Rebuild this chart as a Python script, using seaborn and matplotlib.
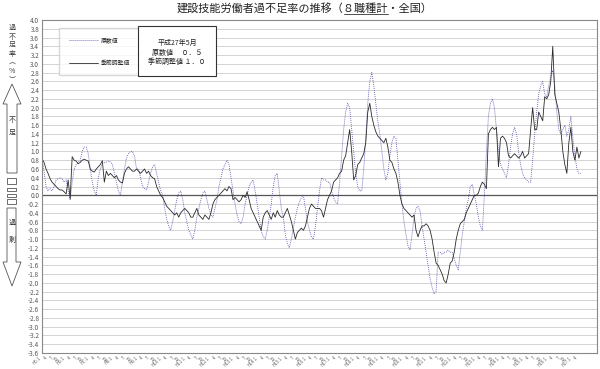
import matplotlib
matplotlib.use("Agg")
import matplotlib.pyplot as plt
import matplotlib.patches as mpatches
from matplotlib.lines import Line2D
import numpy as np
import pandas as pd
import seaborn as sns

# 過不足率 (%) monthly, 1993/1 - 2015/5
seasonal = [
    0.84, 0.75, 0.6, 0.5, 0.38, 0.3, 0.25, 0.2, 0.15, 0.12, 0.12, 0.08,          # 1993
    0.03, 0.35, -0.08, 0.88, 0.8, 0.78, 0.72, 0.75, 0.8, 0.82, 0.8, 0.78,        # 1994
    0.6, 0.55, 0.53, 0.6, 0.65, 0.7, 0.79, 0.3, 0.55, 0.45, 0.5, 0.45,           # 1995
    0.4, 0.45, 0.35, 0.3, 0.28, 0.5, 0.6, 0.65, 0.6, 0.55, 0.55, 0.6,            # 1996
    0.55, 0.5, 0.55, 0.6, 0.5, 0.55, 0.45, 0.4, 0.38, 0.2, 0.1, 0.0,             # 1997
    -0.05, -0.15, -0.25, -0.3, -0.35, -0.4, -0.45, -0.4, -0.5, -0.4, -0.35, -0.3,  # 1998
    -0.35, -0.4, -0.5, -0.5, -0.4, -0.3, -0.45, -0.5, -0.55, -0.45, -0.5, -0.55,   # 1999
    -0.4, -0.2, -0.1, -0.05, 0.0, 0.05, 0.1, 0.15, 0.1, 0.2, 0.15, -0.1,          # 2000
    -0.05, -0.1, -0.15, -0.1, 0.0, -0.05, 0.08, -0.1, -0.3, -0.4, -0.5, -0.6,     # 2001
    -0.7, -0.8, -0.5, -0.4, -0.35, -0.45, -0.55, -0.4, -0.5, -0.35, -0.45, -0.5,  # 2002
    -0.5, -0.4, -0.3, -0.45, -0.6, -0.8, -1.0, -0.85, -0.8, -0.75, -0.8, -0.7,    # 2003
    -0.5, -0.3, -0.2, -0.25, -0.3, -0.3, -0.3, -0.35, -0.5, -0.3, -0.1, 0.0,      # 2004
    0.1, 0.3, 0.35, 0.4, 0.5, 0.55, 0.8, 0.9, 1.2, 1.5, 1.0, 0.35,                # 2005
    0.45, 0.7, 0.75, 0.85, 0.95, 1.2, 1.9, 2.1, 1.8, 1.6, 1.45, 1.35,             # 2006
    1.3, 1.25, 1.2, 1.3, 1.1, 0.8, 0.75, 0.6, 0.5, 0.3, 0.0, -0.2,                # 2007
    -0.3, -0.35, -0.4, -0.45, -0.5, -0.45, -0.8, -0.95, -0.8, -0.7, -0.7, -0.65,  # 2008
    -0.7, -0.8, -1.0, -1.3, -1.55, -1.6, -1.7, -1.8, -1.95, -2.0, -1.8, -1.55,    # 2009
    -1.5, -1.3, -1.0, -0.8, -0.65, -0.6, -0.55, -0.4, -0.3, -0.2, -0.1, 0.0,      # 2010
    0.0, 0.05, 0.2, 0.3, 0.25, 0.15, 1.4, 1.5, 1.55, 1.5, 1.55, 0.65,             # 2011
    1.3, 1.35, 1.3, 1.2, 0.9, 0.85, 0.9, 0.95, 0.9, 0.85, 0.9, 1.0,               # 2012
    0.85, 0.9, 0.95, 1.5, 2.0, 1.5, 1.5, 1.9, 1.8, 1.7, 2.25, 2.2,                # 2013
    2.3, 2.6, 3.4, 2.3, 2.1, 1.9, 1.5, 1.0, 0.7, 0.5, 1.2, 1.55,                  # 2014
    1.0, 0.8, 1.1, 0.85, 1.0,                                                    # 2015
]
raw = [
    0.84, 0.55, 0.2, 0.1, 0.15, 0.1, 0.2, 0.35, 0.38, 0.4, 0.38, 0.3,            # 1993
    0.35, 0.1, -0.1, 0.3, 0.6, 0.7, 0.75, 0.8, 1.0, 1.1, 1.1, 0.95,              # 1994
    0.6, 0.3, 0.1, 0.0, 0.4, 0.6, 0.72, 0.75, 0.76, 0.78, 0.76, 0.7,             # 1995
    0.5, 0.3, 0.1, 0.0, 0.3, 0.6, 0.85, 0.95, 1.0, 1.0, 0.9, 0.6,                # 1996
    0.6, 0.4, 0.2, 0.15, 0.12, 0.3, 0.5, 0.65, 0.7, 0.5, 0.3, 0.1,               # 1997
    0.0, -0.3, -0.55, -0.7, -0.8, -0.6, -0.35, -0.1, 0.05, 0.1, -0.1, -0.4,      # 1998
    -0.6, -0.8, -0.9, -1.0, -0.8, -0.5, -0.3, -0.1, 0.05, 0.1, -0.1, -0.3,       # 1999
    -0.45, -0.5, -0.3, -0.1, 0.2, 0.4, 0.6, 0.7, 0.8, 0.7, 0.4, 0.1,             # 2000
    -0.2, -0.45, -0.6, -0.65, -0.5, -0.2, 0.0, 0.2, 0.3, 0.35, 0.1, -0.2,        # 2001
    -0.5, -0.8, -0.95, -1.0, -0.8, -0.5, -0.2, 0.2, 0.45, 0.5, 0.1, -0.3,        # 2002
    -0.5, -0.9, -1.1, -1.2, -1.0, -0.75, -0.5, -0.3, -0.15, -0.05, 0.0, -0.3,    # 2003
    -0.6, -0.8, -0.95, -1.0, -0.7, -0.3, 0.1, 0.4, 0.35, 0.35, 0.3, 0.3,         # 2004
    0.1, -0.05, -0.15, -0.2, 0.3, 0.9, 1.5, 1.9, 2.1, 2.0, 1.5, 1.0,             # 2005
    0.5, 0.2, 0.1, 0.1, 0.6, 1.3, 2.1, 2.6, 2.8, 2.5, 2.1, 1.7,                  # 2006
    1.4, 1.0, 0.6, 0.35, 0.5, 0.9, 1.2, 1.35, 1.3, 0.8, 0.3, -0.2,               # 2007
    -0.6, -0.9, -1.15, -1.25, -0.9, -0.5, -0.3, -0.25, -0.35, -0.7, -1.0, -1.3,  # 2008
    -1.6, -1.9, -2.1, -2.25, -2.2, -1.3, -1.3, -1.35, -1.3, -1.3, -1.25, -1.3,   # 2009
    -1.3, -1.45, -1.6, -1.7, -1.3, -0.9, -0.6, -0.3, -0.1, 0.2, 0.25, 0.0,       # 2010
    -0.2, -0.5, -0.7, -0.8, 0.0, 1.0, 1.8, 2.1, 2.2, 2.0, 1.5, 1.0,              # 2011
    0.7, 0.6, 0.5, 0.4, 0.7, 1.1, 1.4, 1.55, 1.4, 1.0, 0.7, 0.5,                 # 2012
    0.4, 0.35, 0.3, 0.3, 0.8, 1.4, 1.9, 2.3, 2.5, 2.6, 2.3, 2.25,                # 2013
    2.5, 2.7, 2.85, 2.5, 1.9, 1.5, 1.4, 1.5, 1.6, 1.35, 1.5, 1.8,                # 2014
    1.3, 0.9, 0.6, 0.5, 0.5,                                                     # 2015
]
series_names = ["原数値", "季節調整値"]
first_year = 1993          # 平成5年
yticks = np.round(np.arange(-3.6, 4.01, 0.2), 1)
title = "建設技能労働者過不足率の推移（８職種計・全国）"
note_lines = ["平成27年5月", "原数値　 ０．５", "季節調整値 １．０"]

df = pd.DataFrame({"t": np.arange(len(raw)), series_names[0]: raw, series_names[1]: seasonal})
df_long = df.melt(id_vars="t", var_name="series", value_name="rate")

sns.set_theme(style="white")
plt.rcParams["font.family"] = ["Noto Sans CJK JP", "DejaVu Sans"]

fig = plt.figure(figsize=(6, 3.69), dpi=100)
ax = fig.add_axes([42 / 600, 16 / 369, 555 / 600, 333 / 369])

sns.lineplot(data=df_long, x="t", y="rate", hue="series", style="series",
             palette={series_names[0]: "#4848b0", series_names[1]: "#2a2a2a"},
             dashes={series_names[0]: (1.0, 1.4), series_names[1]: ""},
             linewidth=0.6, ax=ax)
ax.axhline(0, color="#555555", lw=0.9, zorder=1)

# axes and grid
n_months = 276
ax.set_xlim(0, n_months)
ax.set_ylim(-3.6, 4.0)
ax.set_yticks(yticks)
ax.set_yticklabels([f"{v:.1f}" for v in yticks], fontsize=4.6, color="#555555")
qt = np.arange(0, len(raw), 3)
ax.set_xticks(qt)
ax.set_xticklabels([f"H{first_year - 1988 + t // 12}.1" if t % 12 == 0 else str(t % 12 + 1) for t in qt],
                   rotation=45, ha="right", fontsize=3.2, color="#666666")
ax.set_xticks(np.arange(0, n_months + 1, 12), minor=True)
ax.tick_params(axis="both", which="both", length=0, pad=2)
ax.grid(which="minor", axis="x", color="#cccccc", lw=0.6)
ax.grid(which="major", axis="y", color="#cccccc", lw=0.6)
ax.set_xlabel("")
ax.set_ylabel("")
for s in ax.spines.values():
    s.set_color("#888888")
    s.set_linewidth(0.8)

# legend
h, l = ax.get_legend_handles_labels()
keep = [i for i, name in enumerate(l) if name in series_names]
ax.legend([h[i] for i in keep], [l[i] for i in keep], loc="upper left",
          bbox_to_anchor=(0.031, 0.976), borderaxespad=0, frameon=True, fancybox=False,
          edgecolor="#cccccc", fontsize=4.2, handlelength=5, labelspacing=3.0, borderpad=1.6,
          handletextpad=0.6)

# overlay in pixel coordinates for the side arrows and note box
ov = fig.add_axes([0, 0, 1, 1])
ov.set_xlim(0, 600)
ov.set_ylim(369, 0)
ov.axis("off")
ov.patch.set_alpha(0)

ec = "#555555"
up = [(12, 84), (21, 104), (17, 104), (17, 173), (7, 173), (7, 104), (3, 104)]
down = [(7, 208), (16, 208), (16, 262), (21, 262), (12, 286), (3, 262), (7, 262)]
for poly in (up, down):
    ov.add_patch(mpatches.Polygon(poly, closed=True, fc="white", ec=ec, lw=0.6))
for y0, hgt in [(178, 6), (188, 3), (193.5, 3), (199, 5)]:
    ov.add_patch(mpatches.Rectangle((7, y0), 9, hgt, fc="white", ec=ec, lw=0.6))
for ch, yy in [("不", 120), ("足", 133), ("過", 223), ("剰", 240)]:
    ov.text(12, yy, ch, ha="center", va="center", fontsize=5, color="#333333")
ov.text(12, 54, "過\n不\n足\n率\n︵\n%\n︶", ha="center", va="center", fontsize=5,
        linespacing=1.12, color="#444444")

ov.add_patch(mpatches.Rectangle((138, 26), 78, 50, fc="white", ec="#333333", lw=0.8))
for txt, yy in zip(note_lines, [43, 53, 62]):
    ov.text(177, yy, txt, ha="center", va="center", fontsize=5, color="#222222")

# title with underlined part
ttl = fig.text(0.508, 1 - 9 / 369, title, ha="center", va="center", fontsize=8, color="#222222")
fig.canvas.draw()
r = fig.canvas.get_renderer()
bb = ttl.get_window_extent(r)
pre = fig.text(0, 0, "建設技能労働者過不足率の推移（", fontsize=8)
part = fig.text(0, 0, "８職種計", fontsize=8)
w_pre = pre.get_window_extent(r).width
w_part = part.get_window_extent(r).width
pre.remove()
part.remove()
x0 = bb.x0 + w_pre
fig.add_artist(Line2D([x0 / 600, (x0 + w_part) / 600], [(bb.y0 + 0.5) / 369] * 2,
                      transform=fig.transFigure, lw=0.6, color="#333333"))

fig.savefig("out.png", dpi=100)
